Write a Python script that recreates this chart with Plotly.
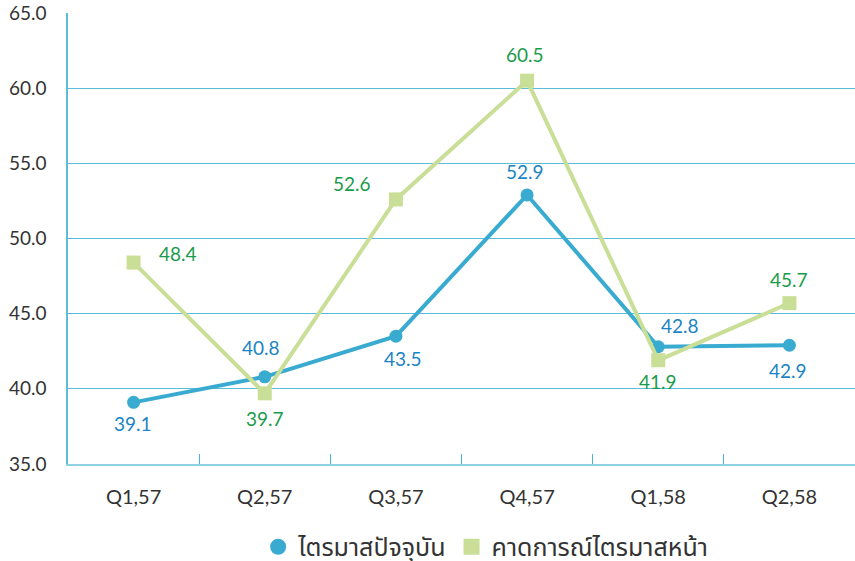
import plotly.graph_objects as go

categories = ["Q1,57", "Q2,57", "Q3,57", "Q4,57", "Q1,58", "Q2,58"]
current = [39.1, 40.8, 43.5, 52.9, 42.8, 42.9]
forecast = [48.4, 39.7, 52.6, 60.5, 41.9, 45.7]
name_current = "ไตรมาสปัจจุบัน"
name_forecast = "คาดการณ์ไตรมาสหน้า"

# label offsets (pixels) for each point
cur_off = [(-1, 21), (-4, -29), (7, 22), (-2, -23), (22, -21), (-1, 25)]
fc_off = [(44, -9), (0, 25), (-44, -16), (-2, -26), (0, 21), (0, -24)]

blue = "#3aabd0"
green = "#c9de96"
blue_txt = "#1b84c4"
green_txt = "#1a9b4b"
grid = "#5bbcd9"
font_fam = "Lato, 'Noto Sans', 'Noto Sans Thai', sans-serif"

fig = go.Figure()
fig.add_trace(go.Scatter(x=categories, y=current, name=name_current, mode="lines+markers",
                         line=dict(color=blue, width=4), showlegend=False,
                         marker=dict(symbol="circle", size=13, color=blue)))
fig.add_trace(go.Scatter(x=categories, y=forecast, name=name_forecast, mode="lines+markers",
                         line=dict(color=green, width=4), showlegend=False,
                         marker=dict(symbol="square", size=14, color=green)))
# legend entries (marker-only symbols)
fig.add_trace(go.Scatter(x=[None], y=[None], name=name_current, mode="markers",
                         marker=dict(symbol="circle", size=19, color=blue)))
fig.add_trace(go.Scatter(x=[None], y=[None], name=name_forecast, mode="markers",
                         marker=dict(symbol="square", size=19, color=green)))

ann = []
for c, v, (dx, dy) in zip(categories, current, cur_off):
    ann.append(dict(x=c, y=v, text=f"{v:.1f}", showarrow=False, xshift=dx, yshift=-dy,
                    font=dict(color=blue_txt, size=19, family=font_fam)))
for c, v, (dx, dy) in zip(categories, forecast, fc_off):
    ann.append(dict(x=c, y=v, text=f"{v:.1f}", showarrow=False, xshift=dx, yshift=-dy,
                    font=dict(color=green_txt, size=19, family=font_fam)))

fig.update_layout(
    width=855, height=561,
    margin=dict(l=68, r=0, t=13, b=97, autoexpand=False),
    paper_bgcolor="white", plot_bgcolor="white",
    font=dict(family=font_fam, color="#333333"),
    annotations=ann,
    showlegend=True,
    legend=dict(orientation="h", x=0.568, xanchor="center", xref="container",
                y=0.025, yanchor="middle", yref="container",
                font=dict(size=25, color="#333333"), itemsizing="trace", itemwidth=30,
                traceorder="normal"),
    xaxis=dict(type="category", range=[-0.5, 5.5], showgrid=False, automargin=False,
               showline=True, linecolor="#8fd0e4", linewidth=2,
               ticks="inside", ticklen=10, tickcolor="#4bb3d6", tickwidth=1,
               tickson="boundaries", tickfont=dict(size=20, color="#333333"),
               ticklabelstandoff=14),
    yaxis=dict(range=[35, 65], dtick=5, tickformat=".1f", showgrid=True, automargin=False,
               gridcolor=grid, gridwidth=1, showline=True, linecolor=grid, linewidth=1.5,
               zeroline=False, tickfont=dict(size=19, color="#333333"), ticklabelstandoff=16),
)

fig.write_html("out.html", post_script="document.body.style.margin='0';",
               config={"displayModeBar": False})
